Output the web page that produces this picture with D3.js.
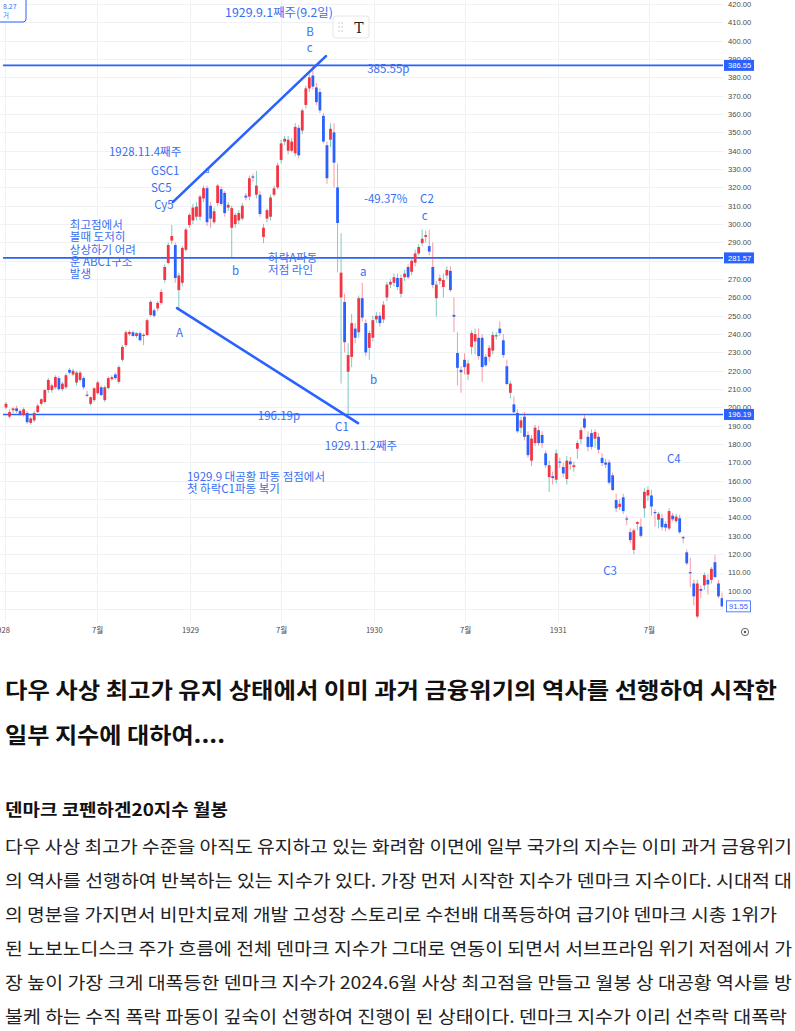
<!DOCTYPE html>
<html><head><meta charset="utf-8">
<script src="https://cdn.jsdelivr.net/npm/d3@7"></script>
<style>
html,body{margin:0;padding:0;background:#fff;}
svg{display:block;}
</style></head><body>
<svg id="c" width="795" height="1031"></svg>
<script>
// ---------------- DATA ----------------
const weekStart = "1928-01-02"; // first weekly bar (Dow Jones weekly, 1928-1931)
const ohlc = [
[200,203,199,202],[195,199,194,197.5],[198.5,200,197,199.5],[199.5,201,197,198],[198,199,195.5,196.5],
[196,200,195,199],[197,198,191,192],[191.6,195,190.5,194],[193,198,192,197],[197.5,202,197,201],
[202,205,201,204.5],[203,210,202,209.5],[209.5,216,208,215],[209.5,213,208,212],[211,217.5,210,216.6],
[216,217,209,210],[210,214,209,213],[211,218.5,210,217.6],[220.5,221.5,218,219],[218,221,217,220],
[213.6,220,212,219],[215,220,214,219],[216,217,210,211],[207,209,205.6,206.5],[202,206,201,205.6],
[204,211,203,210.5],[207.8,214.5,207,213.6],[211,212,206,206.8],[204,212,203,211],[210.6,217,210,216],
[215.5,217.5,214.5,216.5],[218,219,215,216],[214,223,213,222],[226,234,225,233],[234,242,233,241],
[240,242,239,241.2],[241,242,238.5,239],[239,241,238,240.5],[240.5,241.5,236,236.7],[239,240.5,234,239.6],
[239.5,248.5,239,247.6],[250.4,258.5,249.5,257.6],[253,254,249,250],[254,258,252.5,257],[257,264.5,256,263],
[269.5,278,268,276.6],[278.8,290,278,288.6],[291,299.5,289,293.5],[288.6,290,268,270.6],[264,273.5,254,272],
[268,288,266,287],[286,298,285,297],[299.5,306,298,305],
[302,311,300,309],[304,312,302,309.5],[304,316,302,315],[314,321,312,319.6],[319.6,321,299,301],
[310,312,298,303],[301,309,300,307],[311.5,322,310,321],[319,320.5,310,311],[317,318,304,306],
[309,312,307,310.5],[298,310,282,308.7],[300,306,298,305],[302,307.5,300,306],[303,311.5,302,310],
[315.5,317,313,314.5],[315,326.5,313,325],[326,327.5,323,325.3],[316,329,314,321],[316,318,304,305.5],
[293,300,289.6,298],[303,308.5,301,307.6],[304,316,302,314.5],[316,321,315,319.5],[320,333.5,319,332],
[335,346,333,344],[345,348,343,346.5],[340,348,338,346],[340,347,339,345],[338.6,355,337,353],
[352.5,354,336,337.5],[351,363,349,362],[365,375.5,363,374],[374,382,372,380],[381,386.5,373.5,375],
[374.5,377,365,366.5],[372,374,360.5,362],[359,360.5,344,345],[343,345,322,325],[346,355,342,352],
[350,355,320,333.5],[320,333,273.6,300.6],[260,295,213,273.5],[257.5,262,230,235.6],[219.5,235,196.2,228.6],
[227.6,251,222,246],[243,246,235,238],[241,261,238,259.6],[259.6,268,247,249],[246,248,228,230],
[232.5,242,226,240.6],[238,250,236,247.6],[248,252,246,250],[250,252,244,246],[248,258,246,256],
[260,268.5,258,267],[267,270,265,268.5],[268,273,266,271],[270.6,273,264,265.7],[262,272.5,260,270.6],
[271,275,269,273],[276.6,278,270,271],[274,282,272,280],[279,286,277,284],[284,289,283,287.5],
[289.6,297,288,292],[293,296.5,290,294],[288,297,283,285],[276.6,290,265,266.8],[259.6,269,249.5,267],
[269,272.5,267,270.5],[265.7,273,260,269.5],[272,277,270,275],[274.5,277,263,264],[250.5,260,241,249.5],
[229.7,241,212,221.6],[220.5,222.5,208,219.2],[226,229.5,218,222],[218,226,215,224],[233,242,229,240.6],
[236,243,229,240],[238,243,226,228],[238,240,214,222],[227.6,229,222,223],[227.6,234,225,232.5],
[231,241.5,229,239.5],[239,241,237,239.4],[243,247,239,240.6],[236.6,240,227,228.6],[222.5,226,212,212.8],
[208,214.5,205,213],[201.7,206,197,197.4],[197,199,186,187],[189,195,186,193],[195,197.5,182,184],
[185,187,172.5,174],[171,185,168,183],[180.6,190.5,179,189],[187.6,190,179,180.6],[185,187,178,180.6],
[175,176.5,167,168.5],[162,171,154,168.5],[162.5,165,158,161.5],[160.6,177,158.5,175],[170.5,172.5,167,170],
[167.5,170,162,164],[161,173.5,158,171],[170.6,173,166,169],[167.5,170.5,165,168.5],[177.5,182,172,180.6],
[182.7,189,180,187.6],[194,196.5,188,189],[184,187,176,178.5],[186,188,177,178.5],[183,188,178,186.6],
[184,186,175,177],[172.5,175,168,169.7],[170,172,167,168.8],[170,171.5,158,159],[163,164.5,154.5,155],
[149.5,153,143,145],[145.8,150,144,147.5],[151,153,142,143.5],[139.5,141,136,139],[132,134,126,127.7],
[122.3,134,120,133],[136.5,138,133,137.5],[135,139.5,129,130],[145,156,140,154],[152,157,149,155],
[152,155,141,146],[143,144.5,135,142.4],[138.8,143,134,142],[139.6,142,133,134.7],[136.5,138,132.5,134.5],
[134,145,133,143.5],[141,142.5,138,139],[138,142,137,140.5],[139.6,141.5,131,132],[129.3,130,126,128.7],
[121,122.5,114,115],[110.2,118,102,109.6],[104,106,92,97],[86,106,85,104],[101,103,96,100],
[103,110,100.5,108.6],[106,109,98,103.5],[106,113,104,112],[115.6,119.5,107,107.5],[104,106,96,97],
[96,99,91,91.55]
];
const priceTicks = [100,110,120,130,140,150,160,170,180,190,200,210,220,230,240,250,260,270,290,300,310,320,330,340,350,360,370,380,390,400,410,420];
const gridPrices = [90,100,110,120,130,140,150,160,170,180,190,200,210,220,230,240,250,260,270,280,290,300,310,320,330,340,350,360,370,380,390,400,410,420];
const timeTickDates = ["1928-01-01","1928-07-01","1929-01-01","1929-07-01","1930-01-01","1930-07-01","1931-01-01","1931-07-01"];
const timeTickLabels = ["1928","7월","1929","7월","1930","7월","1931","7월"];
const levelLines = [386.55, 281.57, 196.19];
const lastPrice = 91.55;
// trend lines: [barIndex, price] pairs
const trendLines = [
  [[47.3, 312.0], [90.7, 391.6]],
  [[48.5, 254.2], [99.8, 191.5]]
];
// annotations: [lines, barIndex (left edge), price (centre of first line)]
const annotations = [
  [["1929.9.1째주(9.2일)"], 62.1, 415.1],
  [["B"], 85.1, 404.7],
  [["c"], 85.3, 396.0],
  [["385.55p"], 102.4, 384.5],
  [["1928.11.4째주"], 29.2, 339.3],
  [["GSC1"], 41.1, 328.9],
  [["SC5"], 41.1, 319.7],
  [["Cy5"], 42.0, 310.4],
  [["최고점에서","볼때 도저히","상상하기 어려","운 ABC1구소","발생"], 18.1, 299.5],
  [["A"], 48.2, 240.6],
  [["b"], 64.1, 274.4],
  [["하락A파동","저점 라인"], 74.3, 281.5],
  [["a"], 100.4, 273.8],
  [["b"], 103.2, 215.0],
  [["196.19p"], 71.4, 195.3],
  [["C1"], 93.3, 189.3],
  [["1929.11.2째주"], 90.4, 179.0],
  [["1929.9 대공황 파동 점점에서","첫 하락C1파동 복기"], 51.3, 162.1],
  [["-49.37%"], 101.5, 313.7],
  [["C2"], 117.4, 313.7],
  [["c"], 117.9, 304.4],
  [["C4"], 187.4, 171.9],
  [["C3"], 169.3, 110.8]
];
const smallMark = [["a"], 56.4, 329.5];
const titleLines = ["다우 사상 최고가 유지 상태에서 이미 과거 금융위기의 역사를 선행하여 시작한", "일부 지수에 대하여...."];
const subTitle = "덴마크 코펜하겐20지수 월봉";
const bodyLines = [
  "다우 사상 최고가 수준을 아직도 유지하고 있는 화려함 이면에 일부 국가의 지수는 이미 과거 금융위기",
  "의 역사를 선행하여 반복하는 있는 지수가 있다. 가장 먼저 시작한 지수가 덴마크 지수이다. 시대적 대",
  "의 명분을 가지면서 비만치료제 개발 고성장 스토리로 수천배 대폭등하여 급기야 덴마크 시총 1위가",
  "된 노보노디스크 주가 흐름에 전체 덴마크 지수가 그대로 연동이 되면서 서브프라임 위기 저점에서 가",
  "장 높이 가장 크게 대폭등한 덴마크 지수가 2024.6월 사상 최고점을 만들고 월봉 상 대공황 역사를 방",
  "불케 하는 수직 폭락 파동이 깊숙이 선행하여 진행이 된 상태이다. 덴마크 지수가 이리 선추락 대폭락"
];

// ---------------- DRAW ----------------
const svg = d3.select("#c");
const parse = d3.timeParse("%Y-%m-%d");
const t0 = parse(weekStart);
const dates = ohlc.map((d, i) => d3.timeDay.offset(t0, i * 7));
const x = d3.scaleTime().domain([t0, dates[dates.length - 1]]).range([6, 722]);
const xi = i => x(new Date(t0.getTime() + i * 7 * 864e5));
const y = d3.scaleLinear().domain([84.1, 422.2]).range([620, 0]);
const plotR = 723, plotB = 622;

const UP = "#f23645", DOWN = "#2962ff";
const UPW = "rgba(38,166,154,0.6)", DOWNW = "rgba(242,54,69,0.5)";
const BLUE = "#2962ff", TXT = "#3a6ef2";
const FONT = "'Noto Sans CJK KR','Noto Sans',sans-serif";

svg.append("defs").append("clipPath").attr("id","pc")
  .append("rect").attr("x",0).attr("y",0).attr("width",plotR).attr("height",plotB);

// grid
const grid = svg.append("g");
grid.selectAll("line.h").data(gridPrices).join("line")
  .attr("x1",0).attr("x2",plotR)
  .attr("y1",d=>Math.round(y(d))+0.5).attr("y2",d=>Math.round(y(d))+0.5)
  .attr("stroke","#f0f1f4").attr("stroke-width",1);
grid.selectAll("line.v").data(timeTickDates).join("line")
  .attr("x1",d=>Math.round(x(parse(d)))+0.5).attr("x2",d=>Math.round(x(parse(d)))+0.5)
  .attr("y1",0).attr("y2",plotB)
  .attr("stroke","#f0f1f4").attr("stroke-width",1);

const plot = svg.append("g").attr("clip-path","url(#pc)");

// level lines
plot.selectAll("line.lvl").data(levelLines).join("line")
  .attr("x1",3).attr("x2",plotR)
  .attr("y1",d=>y(d)).attr("y2",d=>y(d))
  .attr("stroke",BLUE).attr("stroke-width",1.6);

// candles
const bw = 2.8;
plot.selectAll("line.wick").data(ohlc).join("line")
  .attr("x1",(d,i)=>x(dates[i])).attr("x2",(d,i)=>x(dates[i]))
  .attr("y1",d=>y(d[1])).attr("y2",d=>y(d[2]))
  .attr("stroke",d=>d[3]>=d[0]?UPW:DOWNW).attr("stroke-width",1);
plot.selectAll("rect.body").data(ohlc).join("rect")
  .attr("x",(d,i)=>x(dates[i])-bw/2).attr("width",bw)
  .attr("y",d=>y(Math.max(d[0],d[3])))
  .attr("height",d=>Math.max(1.2,Math.abs(y(d[0])-y(d[3]))))
  .attr("fill",d=>d[3]>=d[0]?UP:DOWN);

// trend lines
plot.selectAll("line.tr").data(trendLines).join("line")
  .attr("x1",d=>xi(d[0][0])).attr("y1",d=>y(d[0][1]))
  .attr("x2",d=>xi(d[1][0])).attr("y2",d=>y(d[1][1]))
  .attr("stroke",BLUE).attr("stroke-width",2.6).attr("stroke-linecap","round");

// annotations
const ann = plot.append("g").attr("font-family",FONT).attr("font-size",11.5).attr("fill",TXT);
annotations.forEach(([lines, bi, p], j) => {
  const t = ann.append("text").attr("x",xi(bi)).attr("y",y(p)+4);
  if (j === 0) t.attr("font-size",12.4);
  lines.forEach((s,k)=> t.append("tspan").attr("x",xi(bi)).attr("dy",k?12.3:0).text(s));
});
ann.append("text").attr("x",xi(smallMark[1])).attr("y",y(smallMark[2])+3)
  .attr("font-size",8).text(smallMark[0][0]);

// price axis
const yAxis = d3.axisRight(y).tickValues(priceTicks).tickFormat(d3.format(".2f")).tickSize(0).tickPadding(0);
const ya = svg.append("g").attr("transform",`translate(728,0)`).call(yAxis);
ya.select(".domain").remove();
ya.selectAll("text").attr("font-family","'Liberation Sans',Arial,sans-serif").attr("font-size",7.6).attr("fill","#4a4a4a");

// time axis
const xAxis = d3.axisBottom(x).tickValues(timeTickDates.map(parse))
  .tickFormat((d,i)=>timeTickLabels[i]).tickSize(0).tickPadding(0);
const xa = svg.append("g").attr("transform",`translate(0,628)`).call(xAxis);
xa.select(".domain").remove();
xa.selectAll("text").attr("font-family",FONT).attr("font-size",7.6).attr("fill","#4a4a4a");
xa.selectAll(".tick").filter((d,i)=>i===0).select("text").attr("text-anchor","end").attr("dx",4);

// level labels
const lbl = svg.append("g").attr("font-family","'Liberation Sans',Arial,sans-serif").attr("font-size",7.6);
levelLines.forEach(v=>{
  lbl.append("rect").attr("x",724).attr("y",y(v)-5.5).attr("width",30).attr("height",11).attr("fill",BLUE);
  lbl.append("text").attr("x",728).attr("y",y(v)+2.8).attr("fill","#fff").text(d3.format(".2f")(v));
});
lbl.append("rect").attr("x",726.5).attr("y",y(lastPrice)-5.5).attr("width",24).attr("height",11)
  .attr("fill","#fff").attr("stroke",BLUE).attr("stroke-width",0.8);
lbl.append("text").attr("x",729).attr("y",y(lastPrice)+2.8).attr("fill",BLUE).text(d3.format(".2f")(lastPrice));

// settings icon
svg.append("circle").attr("cx",745).attr("cy",632).attr("r",3.6).attr("fill","none").attr("stroke","#555").attr("stroke-width",0.9);
svg.append("circle").attr("cx",745).attr("cy",632).attr("r",1.2).attr("fill","#555");

// top-left partial note box
const nb = svg.append("g");
nb.append("rect").attr("x",-6).attr("y",-6).attr("width",32).attr("height",28).attr("rx",3)
  .attr("fill","#fff").attr("stroke",BLUE).attr("stroke-width",1);
nb.append("text").attr("x",3).attr("y",9).attr("font-family",FONT).attr("font-size",7).attr("fill",TXT).text("8.27");
nb.append("text").attr("x",3).attr("y",18).attr("font-family",FONT).attr("font-size",6.5).attr("fill",TXT).text("거");

// floating text tool widget
const tw = svg.append("g");
tw.append("rect").attr("x",333).attr("y",16).attr("width",36).attr("height",22).attr("rx",3)
  .attr("fill","#fff").attr("stroke","#e6e6e6").attr("stroke-width",1);
[[339,23],[339,27],[339,31],[342,23],[342,27],[342,31]].forEach(p=>
  tw.append("circle").attr("cx",p[0]).attr("cy",p[1]).attr("r",0.7).attr("fill","#bbb"));
tw.append("text").attr("x",359).attr("y",33).attr("text-anchor","middle")
  .attr("font-family","'DejaVu Serif','Liberation Serif',serif").attr("font-size",14).attr("fill","#222").text("T");

// ---------------- TEXT BELOW ----------------
const tx = svg.append("g").attr("font-family",FONT).attr("fill","#111");
const titleW = [772, 220];
titleLines.forEach((s,k)=>{
  tx.append("text").attr("x",5).attr("y",698+k*45).attr("font-size",22).attr("font-weight",700)
    .attr("textLength",titleW[k]).attr("lengthAdjust","spacingAndGlyphs").text(s);
});
tx.append("text").attr("x",5).attr("y",816).attr("font-size",16.5).attr("font-weight",700)
  .attr("textLength",223).attr("lengthAdjust","spacingAndGlyphs").text(subTitle);
const bodyW = [787, 787, 772, 787, 787, 782];
bodyLines.forEach((s,k)=>{
  tx.append("text").attr("x",5).attr("y",853+k*34).attr("font-size",17.5).attr("fill","#222")
    .attr("textLength",bodyW[k]).attr("lengthAdjust","spacingAndGlyphs").text(s);
});
</script>
</body></html>
